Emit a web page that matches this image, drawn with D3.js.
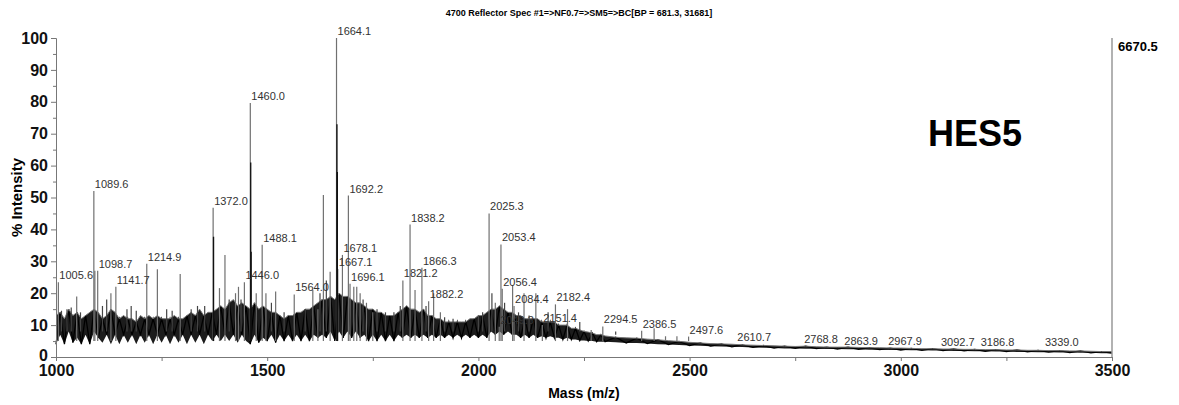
<!DOCTYPE html>
<html>
<head>
<meta charset="utf-8">
<script src="https://cdn.jsdelivr.net/npm/d3@7"></script>
<style>
  body { margin: 0; background: #fff; }
  text { font-family: "Liberation Sans", Arial, sans-serif; }
</style>
</head>
<body>
<div id="chart"></div>
<script>
// labelled peaks: [m/z, % intensity]
const labelledPeaks = [
  [1005.6, 23.4], [1089.6, 52], [1098.7, 27], [1141.7, 22], [1214.9, 29.2],
  [1372.0, 46.8], [1446.0, 23.4], [1460.0, 79.6], [1488.1, 35.2], [1564.0, 19.6],
  [1664.1, 100], [1667.1, 27.6], [1678.1, 32], [1692.2, 50.6], [1696.1, 23],
  [1821.2, 24], [1838.2, 41.5], [1866.3, 28], [1882.2, 17.5], [2025.3, 45],
  [2049.3, 9.5], [2053.4, 35.3], [2056.4, 21.4], [2084.4, 16], [2151.4, 10],
  [2182.4, 16.5], [2294.5, 9.6], [2386.5, 8.2], [2497.6, 6.4], [2610.7, 4.2],
  [2768.8, 3.4], [2863.9, 2.8], [2967.9, 2.8], [3092.7, 2.5], [3186.8, 2.5],
  [3339.0, 2.5]
]

// other visible peaks, no label
const otherPeaks = [
  [1049, 19], [1092, 27], [1130, 20], [1240, 27.5], [1294, 26], [1387, 21.6],
  [1400, 32], [1425, 20], [1432, 22], [1474, 20], [1497, 20], [1520, 20.5],
  [1608, 21], [1620, 15], [1633, 50.8], [1649, 26.7], [1705, 22], [1712, 22],
  [1720, 20], [1735, 17], [1750, 14], [1850, 21], [1894, 20], [1910, 14],
  [2040, 17], [2081, 22.6], [2108, 20], [2136, 20], [2211, 15], [2267, 8.5],
  [2416, 9], [2443, 6.5], [2470, 6.5], [2529, 4.5]
]

// small spikes poking out of the noise
const smallPeaks = [
  [1013, 14.5], [1026, 15], [1036, 15.5], [1058, 14], [1110, 16], [1120, 18],
  [1168, 15], [1178, 16], [1190, 14.5], [1262, 15], [1275, 14.5], [1320, 15],
  [1335, 16], [1352, 16], [1410, 18], [1438, 18], [1510, 17], [1540, 14],
  [1590, 15], [1625, 20], [1640, 24], [1727, 18], [1760, 15], [1780, 14],
  [1800, 14], [1815, 16], [1876, 16], [1920, 12.5], [1940, 12], [2000, 13],
  [2010, 14], [2032, 20], [2062, 17], [2095, 14], [2120, 13], [2165, 14],
  [2240, 11], [2325, 7]
]

// isotope sticks drawn darker inside the big ones
const isotopePeaks = [
  [1373.0, 37.7], [1461.0, 61], [1462.0, 33], [1665.1, 73], [1666.1, 58]
]

// noise band: [m/z, low, high]
const noiseBand = [
  [1000, 4, 13], [1010, 7, 14], [1020, 4, 12], [1030, 8, 15], [1040, 4.5, 13],
  [1050, 6, 14], [1060, 4, 12], [1070, 7, 13], [1080, 4, 14], [1090, 8, 15],
  [1100, 6, 14], [1110, 4.5, 12], [1120, 7, 13], [1130, 4, 15], [1140, 7, 14],
  [1150, 4, 12], [1160, 7, 13], [1170, 4.5, 12], [1180, 7, 12], [1190, 4, 11],
  [1200, 7, 13], [1210, 4.5, 12], [1220, 7, 13], [1230, 4, 12], [1240, 7, 13],
  [1250, 4.5, 12], [1260, 7, 12], [1270, 4, 12], [1280, 7, 13], [1290, 4.5, 12],
  [1300, 7, 12], [1310, 4, 13], [1320, 7, 14], [1330, 4.5, 13], [1340, 7, 15],
  [1350, 4, 13], [1360, 7, 14], [1370, 5, 14], [1380, 7, 15], [1390, 5, 16],
  [1400, 7, 15], [1410, 5, 17], [1420, 7, 18], [1430, 4.5, 16], [1440, 7, 17],
  [1450, 5, 16], [1460, 4, 15], [1470, 7, 17], [1480, 4.5, 15], [1490, 6, 16],
  [1500, 5, 15], [1510, 7, 14], [1520, 4.5, 14], [1530, 7, 13], [1540, 5, 12],
  [1550, 7, 13], [1560, 5, 13], [1570, 7, 14], [1580, 5, 14], [1590, 7, 15],
  [1600, 5, 15], [1610, 7, 16], [1620, 6, 17], [1630, 7, 18], [1640, 6, 18],
  [1650, 8, 19], [1660, 5, 18], [1670, 8, 20], [1680, 6, 19], [1690, 8, 19],
  [1700, 6, 18], [1710, 8, 17], [1720, 6, 17], [1730, 7, 16], [1740, 5, 15],
  [1750, 7, 15], [1760, 5, 14], [1770, 7, 14], [1780, 5, 13], [1790, 7, 13],
  [1800, 5, 13], [1810, 7, 14], [1820, 6, 15], [1830, 7, 16], [1840, 6, 15],
  [1850, 7, 15], [1860, 6, 14], [1870, 7, 15], [1880, 6, 13], [1890, 7, 13],
  [1900, 6, 12], [1910, 7, 12], [1920, 6, 11], [1930, 7, 11], [1940, 6, 11],
  [1950, 7, 11], [1960, 6, 11], [1970, 7, 11], [1980, 6, 12], [1990, 7, 12],
  [2000, 6, 13], [2010, 7, 13], [2020, 6, 14], [2030, 8, 15], [2040, 7, 15],
  [2050, 8, 16], [2060, 7, 15], [2070, 8, 14], [2080, 7, 14], [2090, 7, 13],
  [2100, 6, 13], [2110, 7, 12], [2120, 6, 12], [2130, 7, 12], [2140, 6, 12],
  [2150, 6.5, 11], [2160, 6, 11], [2170, 6.5, 11], [2180, 6, 11], [2190, 6, 10],
  [2200, 5.5, 10], [2210, 6, 10], [2220, 5.5, 9], [2230, 5.5, 9], [2240, 5.2, 8.5],
  [2250, 5.2, 8], [2260, 5, 7.8], [2270, 5, 7.5], [2280, 4.8, 7], [2290, 4.8, 7],
  [2300, 4.8, 6.6], [2325, 4.6, 6.2], [2350, 4.4, 6], [2375, 4.4, 5.9], [2400, 4.2, 5.6],
  [2425, 4, 5.4], [2450, 3.9, 5.1], [2475, 3.8, 4.9], [2500, 3.6, 4.6], [2525, 3.5, 4.4],
  [2550, 3.4, 4.2], [2575, 3.3, 4.1], [2600, 3.2, 4], [2625, 3.1, 3.8], [2650, 3, 3.7],
  [2675, 2.9, 3.6], [2700, 2.8, 3.5], [2725, 2.7, 3.4], [2750, 2.7, 3.3], [2775, 2.6, 3.4],
  [2800, 2.6, 3.2], [2825, 2.5, 3.1], [2850, 2.5, 3.1], [2875, 2.4, 3.1], [2900, 2.4, 3],
  [2925, 2.3, 2.9], [2950, 2.3, 2.9], [2975, 2.2, 2.8], [3000, 2.2, 2.8], [3025, 2.1, 2.7],
  [3050, 2.1, 2.6], [3075, 2, 2.6], [3100, 2, 2.5], [3125, 1.9, 2.5], [3150, 1.9, 2.4],
  [3175, 1.8, 2.4], [3200, 1.8, 2.3], [3225, 1.7, 2.3], [3250, 1.7, 2.2], [3275, 1.6, 2.2],
  [3300, 1.6, 2.1], [3325, 1.5, 2.1], [3350, 1.5, 2], [3375, 1.4, 2], [3400, 1.4, 1.9],
  [3425, 1.3, 1.9], [3450, 1.3, 1.8], [3475, 1.2, 1.7], [3500, 1.2, 1.7]
]

const xTicks = [1000, 1500, 2000, 2500, 3000, 3500]
const xMinorTicks = [1250, 1750, 2250, 2750, 3250]
const yTicks = [0, 10, 20, 30, 40, 50, 60, 70, 80, 90, 100]
const yMinorTicks = [5, 15, 25, 35, 45, 55, 65, 75, 85, 95]

const titleText = "4700 Reflector Spec #1=>NF0.7=>SM5=>BC[BP = 681.3, 31681]"
const sampleName = "HES5"
const maxCounts = "6670.5"

class Spectrum {

  constructor({width, height, margin}) {
    this.width = width
    this.height = height
    this.margin = margin
    this.x = d3.scaleLinear().domain([1000, 3500]).range([margin.left, width - margin.right])
    this.y = d3.scaleLinear().domain([0, 100]).range([height - margin.bottom, margin.top])
    this.svg = this.createSVG()
    this.drawText()
    this.drawNoise()
    this.drawPeaks()
    this.drawAxes()
  }

  createSVG() {
    return d3.select("#chart")
    .append("svg")
    .attr("width", this.width)
    .attr("height", this.height)
  }

  drawAxes() {
    const yAxis = this.svg.append("g")
    .attr("transform", `translate(${this.x(1000)},0)`)
    .call(d3.axisLeft(this.y).tickValues(yTicks).tickSize(5).tickPadding(3))
    yAxis.selectAll("text").style("font-size", "16px").style("font-weight", "bold").attr("fill", "#111")
    yAxis.select(".domain").attr("stroke", "#777")
    yAxis.selectAll(".tick line").attr("stroke", "#777")
    // lift the "0" a touch so it clears the first mass label
    yAxis.selectAll(".tick text").filter(d => d === 0).attr("dy", "0.2em")

    this.svg.append("g")
    .attr("transform", `translate(${this.x(1000)},0)`)
    .call(d3.axisLeft(this.y).tickValues(yMinorTicks).tickSize(3).tickFormat(""))
    .call(g => g.select(".domain").remove())
    .selectAll("line").attr("stroke", "#777")

    const xAxis = this.svg.append("g")
    .attr("transform", `translate(0,${this.y(0)})`)
    .call(d3.axisBottom(this.x).tickValues(xTicks).tickSize(4).tickPadding(4).tickFormat(d3.format("d")))
    xAxis.selectAll("text").style("font-size", "16px").style("font-weight", "bold").attr("fill", "#111")
    xAxis.select(".domain").attr("stroke", "#777")
    xAxis.selectAll(".tick line").attr("stroke", "#777")

    this.svg.append("g")
    .attr("transform", `translate(0,${this.y(0)})`)
    .call(d3.axisBottom(this.x).tickValues(xMinorTicks).tickSize(4).tickFormat(""))
    .call(g => g.select(".domain").remove())
    .selectAll("line").attr("stroke", "#777")

    // right border line with max counts
    this.svg.append("line")
    .attr("x1", this.x(3500)).attr("x2", this.x(3500))
    .attr("y1", this.y(100)).attr("y2", this.y(0))
    .attr("stroke", "#999").attr("stroke-width", 1.5)

    this.svg.append("text")
    .attr("x", this.x(3500) + 6).attr("y", this.y(100) + 13)
    .style("font-size", "13px").style("font-weight", "bold")
    .text(maxCounts)

    this.svg.append("text")
    .attr("x", (this.x(1000) + this.x(3500)) / 2).attr("y", 398)
    .attr("text-anchor", "middle")
    .style("font-size", "14px").style("font-weight", "bold")
    .text("Mass (m/z)")

    this.svg.append("text")
    .attr("transform", `translate(22,${(this.y(0) + this.y(100)) / 2}) rotate(-90)`)
    .attr("text-anchor", "middle")
    .style("font-size", "15px").style("font-weight", "bold")
    .text("% Intensity")
  }

  drawText() {
    this.svg.append("text")
    .attr("x", 579).attr("y", 16)
    .attr("text-anchor", "middle")
    .style("font-size", "9px").style("font-weight", "bold")
    .text(titleText)

    this.svg.append("text")
    .attr("x", 975).attr("y", 146)
    .attr("text-anchor", "middle")
    .style("font-size", "36px").style("font-weight", "bold")
    .text(sampleName)
  }

  drawNoise() {
    const area = d3.area()
    .x(d => this.x(d[0]))
    .y0(d => this.y(d[1]))
    .y1(d => this.y(d[2]))

    this.svg.append("path")
    .datum(noiseBand)
    .attr("d", area)
    .attr("fill", "#1c1c1c")

    // zigzag through the band rows
    const zig = d3.line()
    .x(d => this.x(d[0]))
    .y((d, i) => this.y(i % 2 ? d[2] : d[1]))

    this.svg.append("path")
    .datum(noiseBand)
    .attr("d", zig)
    .attr("fill", "none")
    .attr("stroke", "#000")
    .attr("stroke-width", 1.3)

    this.svg.append("path")
    .datum(noiseBand)
    .attr("d", d3.line().x(d => this.x(d[0])).y(d => this.y(d[2])))
    .attr("fill", "none").attr("stroke", "#777").attr("stroke-width", 1)
  }

  drawPeaks() {
    const base = this.y(5)
    const sticks = labelledPeaks.concat(otherPeaks)

    this.svg.append("g")
    .selectAll("line")
    .data(smallPeaks)
    .enter()
    .append("line")
    .attr("x1", d => this.x(d[0])).attr("x2", d => this.x(d[0]))
    .attr("y1", this.y(8)).attr("y2", d => this.y(d[1]))
    .attr("stroke", "#444").attr("stroke-width", 1.2)

    this.svg.append("g")
    .selectAll("line")
    .data(sticks)
    .enter()
    .append("line")
    .attr("x1", d => this.x(d[0])).attr("x2", d => this.x(d[0]))
    .attr("y1", d => Math.max(base, this.y(d[1]))).attr("y2", d => this.y(d[1]))
    .attr("stroke", "#707070").attr("stroke-width", 1.2)

    this.svg.append("g")
    .selectAll("line")
    .data(isotopePeaks)
    .enter()
    .append("line")
    .attr("x1", d => this.x(d[0])).attr("x2", d => this.x(d[0]))
    .attr("y1", base).attr("y2", d => this.y(d[1]))
    .attr("stroke", "#111").attr("stroke-width", 1.3)

    this.svg.append("g")
    .selectAll("text")
    .data(labelledPeaks)
    .enter()
    .append("text")
    .attr("x", d => this.x(d[0]) + 1)
    .attr("y", d => this.y(d[1]) - 3)
    .style("font-size", "11px")
    .attr("fill", "#333")
    .text(d => d[0].toFixed(1))
  }

}

new Spectrum({
  width: 1179,
  height: 405,
  margin: {top: 38, right: 67, bottom: 48, left: 56}
})
</script>
</body>
</html>
